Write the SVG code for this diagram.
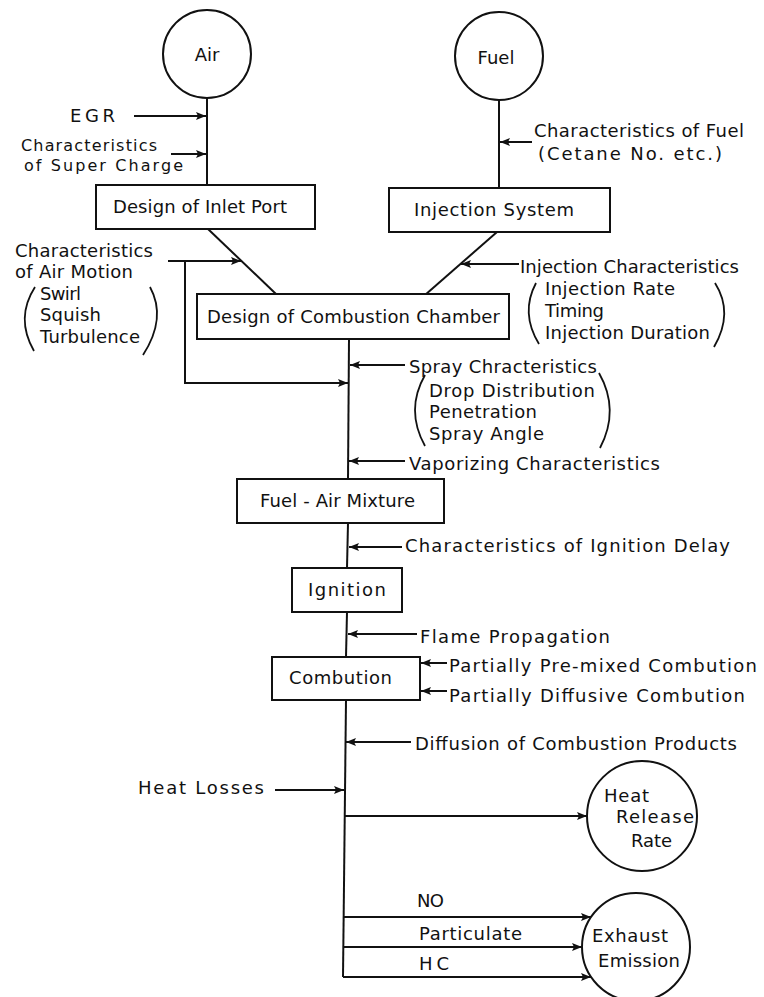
<svg xmlns="http://www.w3.org/2000/svg" width="764" height="997" viewBox="0 0 764 997">
<style>
  .ln{stroke:#111;stroke-width:2;fill:none}
  .bx{stroke:#111;stroke-width:2;fill:#fff}
  .ar{stroke:#111;stroke-width:2;fill:none;marker-end:url(#ah)}
  .pr{stroke:#111;stroke-width:1.8;fill:none}
  text{font-family:"DejaVu Sans","Liberation Sans",sans-serif;font-size:18px;fill:#111}
  .sm{font-size:16px}
</style>
<defs>
  <marker id="ah" markerUnits="userSpaceOnUse" markerWidth="10" markerHeight="8" refX="10" refY="4" orient="auto">
    <path d="M0,0 L10,4 L0,8 L2,4 z" fill="#111"/>
  </marker>
</defs>
<rect width="764" height="997" fill="#fff"/>

<g id="connectors">
  <line class="ln" x1="207" y1="98" x2="207" y2="185"/>
  <line class="ln" x1="499" y1="100" x2="499" y2="188"/>
  <line class="ar" x1="134" y1="116" x2="206" y2="116"/>
  <line class="ar" x1="171" y1="154" x2="206" y2="154"/>
  <line class="ar" x1="532" y1="142" x2="500" y2="142"/>
  <line class="ln" x1="208" y1="229" x2="276" y2="294"/>
  <line class="ln" x1="497" y1="232" x2="425" y2="295"/>
  <line class="ar" x1="168" y1="261" x2="241" y2="261"/>
  <polyline class="ar" points="185,261 185,383 348,383"/>
  <line class="ar" x1="519" y1="264" x2="461" y2="264"/>
  <line class="ln" x1="349" y1="339" x2="348" y2="479"/>
  <line class="ln" x1="348" y1="523" x2="347" y2="568"/>
  <line class="ln" x1="347" y1="612" x2="346" y2="657"/>
  <line class="ln" x1="346" y1="700" x2="343" y2="977"/>
  <line class="ar" x1="405" y1="365" x2="350" y2="365"/>
  <line class="ar" x1="405" y1="461" x2="349" y2="461"/>
  <line class="ar" x1="402" y1="547" x2="349" y2="547"/>
  <line class="ar" x1="417" y1="634" x2="348" y2="634"/>
  <line class="ar" x1="447" y1="663" x2="421" y2="663"/>
  <line class="ar" x1="447" y1="691" x2="421" y2="691"/>
  <line class="ar" x1="411" y1="742" x2="346" y2="742"/>
  <line class="ar" x1="275" y1="790" x2="344" y2="790"/>
  <line class="ar" x1="345" y1="816" x2="587" y2="816"/>
  <line class="ar" x1="344" y1="917" x2="591" y2="917"/>
  <line class="ar" x1="344" y1="947" x2="582" y2="947"/>
  <line class="ar" x1="343" y1="977" x2="591" y2="977"/>
</g>

<g id="air">
  <circle class="bx" cx="207" cy="54" r="44"/>
  <text x="207" y="61" text-anchor="middle">Air</text>
</g>
<g id="fuel">
  <circle class="bx" cx="499" cy="56" r="44"/>
  <text x="496" y="64" text-anchor="middle">Fuel</text>
</g>
<g id="egr">
  <text x="70" y="122" textLength="45">EGR</text>
</g>
<g id="supercharge">
  <text class="sm" x="21" y="151" textLength="136">Characteristics</text>
  <text class="sm" x="24" y="171" textLength="159">of Super Charge</text>
</g>
<g id="fuel-char">
  <text x="534" y="137" textLength="210">Characteristics of Fuel</text>
  <text x="538" y="160" textLength="184">(Cetane No. etc.)</text>
</g>
<g id="inlet-port">
  <rect class="bx" x="96" y="185" width="219" height="44"/>
  <text x="113" y="213" textLength="174">Design of Inlet Port</text>
</g>
<g id="injection-system">
  <rect class="bx" x="389" y="188" width="221" height="44"/>
  <text x="414" y="216" textLength="160">Injection System</text>
</g>
<g id="air-motion">
  <text x="15" y="257" textLength="138">Characteristics</text>
  <text x="15" y="278" textLength="118">of Air Motion</text>
  <text x="40" y="300" textLength="41">Swirl</text>
  <text x="40" y="321" textLength="61">Squish</text>
  <text x="40" y="343" textLength="100">Turbulence</text>
  <path class="pr" d="M35,287 Q15,318 34,351"/>
  <path class="pr" d="M150,287 Q167,318 143,355"/>
</g>
<g id="injection-char">
  <text x="520" y="273" textLength="219">Injection Characteristics</text>
  <text x="545" y="295" textLength="130">Injection Rate</text>
  <text x="545" y="317" textLength="59">Timing</text>
  <text x="545" y="339" textLength="165">Injection Duration</text>
  <path class="pr" d="M536,283 Q520,313 539,344"/>
  <path class="pr" d="M715,283 Q734,313 714,347"/>
</g>
<g id="combustion-chamber">
  <rect class="bx" x="197" y="294" width="312" height="45"/>
  <text x="207" y="323" textLength="293">Design of Combustion Chamber</text>
</g>
<g id="spray">
  <text x="409" y="373" textLength="188">Spray Chracteristics</text>
  <text x="429" y="397" textLength="166">Drop Distribution</text>
  <text x="429" y="418" textLength="108">Penetration</text>
  <text x="429" y="440" textLength="115">Spray Angle</text>
  <path class="pr" d="M425,375 Q405,410 425,446"/>
  <path class="pr" d="M599,373 Q620,410 600,448"/>
</g>
<g id="vaporizing">
  <text x="409" y="470" textLength="251">Vaporizing Characteristics</text>
</g>
<g id="mixture">
  <rect class="bx" x="237" y="479" width="207" height="44"/>
  <text x="260" y="507" textLength="155">Fuel - Air Mixture</text>
</g>
<g id="ignition-delay">
  <text x="405" y="552" textLength="325">Characteristics of Ignition Delay</text>
</g>
<g id="ignition">
  <rect class="bx" x="292" y="568" width="110" height="44"/>
  <text x="308" y="596" textLength="78">Ignition</text>
</g>
<g id="flame">
  <text x="420" y="643" textLength="190">Flame Propagation</text>
</g>
<g id="combution">
  <rect class="bx" x="272" y="657" width="148" height="43"/>
  <text x="289" y="684" textLength="103">Combution</text>
</g>
<g id="premixed">
  <text x="449" y="672" textLength="308">Partially Pre-mixed Combution</text>
</g>
<g id="diffusive">
  <text x="449" y="702" textLength="296">Partially Diffusive Combution</text>
</g>
<g id="diffusion">
  <text x="415" y="750" textLength="322">Diffusion of Combustion Products</text>
</g>
<g id="heat-losses">
  <text x="138" y="794" textLength="126">Heat Losses</text>
</g>
<g id="heat-release">
  <circle class="bx" cx="642" cy="816" r="55"/>
  <text x="604" y="802" textLength="45">Heat</text>
  <text x="616" y="823" textLength="78">Release</text>
  <text x="631" y="847" textLength="41">Rate</text>
</g>
<g id="emission-labels">
  <text x="417" y="907" textLength="27">NO</text>
  <text x="419" y="940" textLength="103">Particulate</text>
  <text x="419" y="970" textLength="30">HC</text>
</g>
<g id="exhaust">
  <circle class="bx" cx="636" cy="947" r="54"/>
  <text x="592" y="942" textLength="76">Exhaust</text>
  <text x="598" y="967" textLength="82">Emission</text>
</g>
</svg>
